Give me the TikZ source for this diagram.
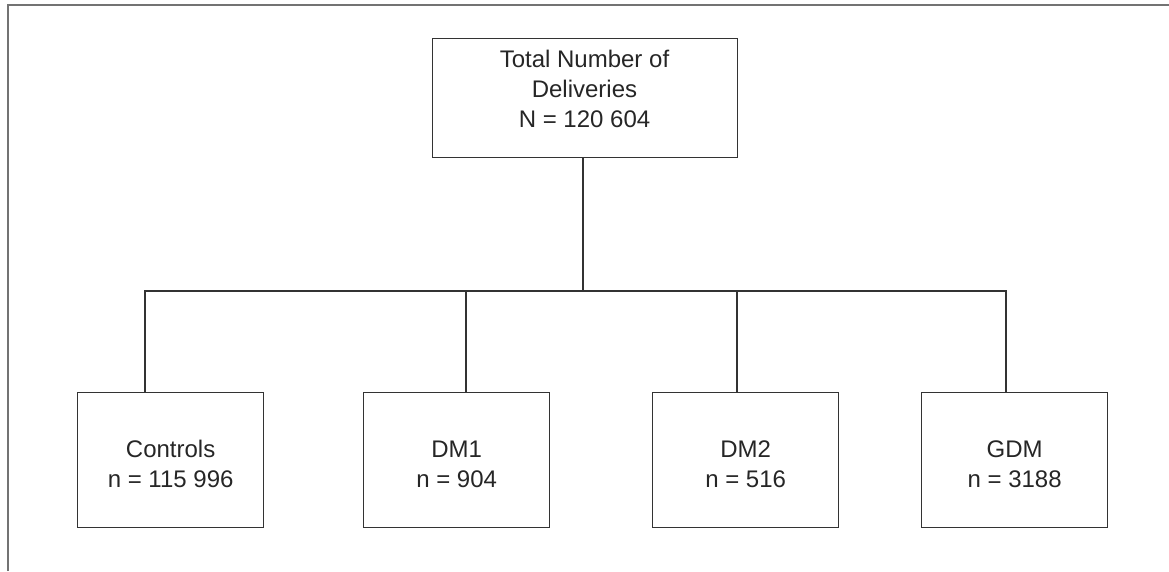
\documentclass[tikz,border=0pt]{standalone}
\usepackage{fontspec}
\setmainfont{Liberation Sans}
\begin{document}
\begin{tikzpicture}[x=1pt,y=-1pt,
  box/.style={draw=black!80,line width=1.3pt,minimum width=186pt,minimum height=135pt,inner sep=0pt,anchor=north west},
  topbox/.style={draw=black!80,line width=1.3pt,minimum width=305pt,minimum height=119pt,inner sep=0pt,anchor=north west},
  txt/.style={align=center,font=\fontsize{24}{30}\selectfont,text=black!85,inner sep=0pt},
  conn/.style={draw=black!80,line width=1.3pt},
  frame/.style={draw=black!55,line width=2pt}]
\useasboundingbox (0,0) rectangle (1169,571);
\draw[frame] (8,571) -- (8,5) -- (1169,5);
\node[topbox] (top) at (432,38) {};
\node[txt] (toptxt) at (584.5,89) {Total Number of\\Deliveries\\N = 120 604};
\node[box] (c) at (77,392) {};
\node[box] (d1) at (363,392) {};
\node[box] (d2) at (652,392) {};
\node[box] (g) at (921,392) {};
\node[txt] at ([yshift=-4pt]c.center) {Controls\\n = 115 996};
\node[txt] at ([yshift=-4pt]d1.center) {DM1\\n = 904};
\node[txt] at ([yshift=-4pt]d2.center) {DM2\\n = 516};
\node[txt] at ([yshift=-4pt]g.center) {GDM\\n = 3188};
\coordinate (hub) at (583,291);
\coordinate (cl) at (145,291);
\coordinate (d1j) at (466,291);
\coordinate (d2j) at (737,291);
\coordinate (gj) at (1006,291);
\draw[conn] (top.south -| hub) -- (hub);
\draw[conn] (c.north -| cl) -- (cl) -- (gj) -- (g.north -| gj);
\draw[conn] (d1j) -- (d1.north -| d1j);
\draw[conn] (d2j) -- (d2.north -| d2j);
\end{tikzpicture}
\end{document}
